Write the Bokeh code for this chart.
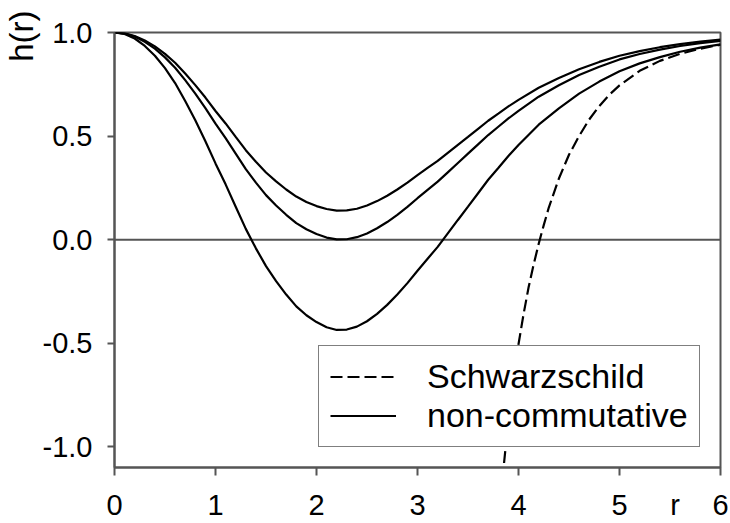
import numpy as np
from bokeh.plotting import figure
from bokeh.models import (Span, Legend, LegendItem, NumeralTickFormatter, FixedTicker,
                          Range1d, LinearAxis, Title)
from bokeh.embed import file_html
from bokeh.resources import INLINE

# ---- data ----
r_nc = [0, 0.1, 0.2, 0.3, 0.4, 0.5, 0.6, 0.7, 0.8, 0.9, 1.0, 1.1, 1.2, 1.3, 1.4, 1.5,
        1.6, 1.7, 1.8, 1.9, 2.0, 2.1, 2.2, 2.3, 2.4, 2.5, 2.6, 2.7, 2.8, 2.9, 3.0, 3.1,
        3.2, 3.3, 3.4, 3.5, 3.6, 3.7, 3.8, 3.9, 4.0, 4.2, 4.4, 4.6, 4.8, 5.0, 5.2, 5.4,
        5.6, 5.8, 6.0]
h_upper = [1.0, 0.996, 0.983, 0.961, 0.933, 0.897, 0.854, 0.802, 0.746, 0.686, 0.621,
           0.561, 0.496, 0.432, 0.376, 0.324, 0.281, 0.242, 0.208, 0.182, 0.162, 0.148,
           0.140, 0.141, 0.149, 0.165, 0.186, 0.212, 0.242, 0.275, 0.311, 0.346, 0.380,
           0.419, 0.458, 0.496, 0.535, 0.574, 0.608, 0.643, 0.675, 0.733, 0.780, 0.823,
           0.858, 0.888, 0.910, 0.929, 0.944, 0.956, 0.966]
h_middle = [1.0, 0.995, 0.98, 0.955, 0.922, 0.88, 0.83, 0.77, 0.705, 0.635, 0.56, 0.49,
            0.415, 0.34, 0.275, 0.215, 0.165, 0.12, 0.08, 0.05, 0.027, 0.01, 0.001, 0.002,
            0.012, 0.03, 0.055, 0.085, 0.12, 0.158, 0.2, 0.24, 0.28, 0.325, 0.37, 0.415,
            0.46, 0.505, 0.545, 0.585, 0.622, 0.69, 0.745, 0.795, 0.835, 0.87, 0.896,
            0.917, 0.935, 0.949, 0.96]
h_lower = [1.0, 0.993, 0.971, 0.935, 0.888, 0.828, 0.756, 0.669, 0.576, 0.475, 0.368,
           0.267, 0.159, 0.052, -0.042, -0.128, -0.200, -0.265, -0.322, -0.365, -0.398,
           -0.423, -0.436, -0.434, -0.420, -0.394, -0.358, -0.315, -0.265, -0.210, -0.150,
           -0.092, -0.035, 0.030, 0.095, 0.159, 0.224, 0.289, 0.346, 0.404, 0.457, 0.555,
           0.634, 0.705, 0.763, 0.813, 0.851, 0.881, 0.907, 0.927, 0.943]
r_schw = [3.84, 3.9, 3.95, 4.0, 4.05, 4.1, 4.15, 4.2, 4.25, 4.3, 4.4, 4.5, 4.6, 4.7, 4.8,
          4.9, 5.0, 5.2, 5.4, 5.6, 5.8, 6.0]
h_schw = [-1.16, -0.87, -0.675, -0.505, -0.36, -0.23, -0.12, -0.02, 0.07, 0.155, 0.295,
          0.41, 0.50, 0.58, 0.645, 0.70, 0.745, 0.815, 0.863, 0.897, 0.922, 0.941]
x_ticks = [0, 1, 2, 3, 4, 5, 6]
x_tick_labels = ["0", "1", "2", "3", "4", "5", "6"]
y_ticks = [-1.0, -0.5, 0.0, 0.5, 1.0]
legend_labels = ["Schwarzschild", "non-commutative"]
x_label, x_label_at = "r", 5.55
y_label = "h(r)"

AX = "#555555"
FONT = "Liberation Sans"

p = figure(width=730, height=523, output_backend="svg", toolbar_location=None,
           x_range=Range1d(0, 6), y_range=Range1d(-1.1, 1.0),
           min_border_left=112, min_border_right=10, min_border_top=32, min_border_bottom=54)
p.grid.visible = False
p.background_fill_color = "white"
p.border_fill_color = "white"
p.outline_line_color = AX
p.outline_line_width = 2

# x axis: line + tick marks only (labels on a second axis, so "r" can share their row)
xa = p.xaxis[0]
xa.ticker = FixedTicker(ticks=x_ticks)
xa.axis_line_color = AX
xa.axis_line_width = 2
xa.major_tick_line_color = AX
xa.major_tick_line_width = 2
xa.major_tick_in = 0
xa.major_tick_out = 8
xa.minor_tick_line_color = None
xa.major_label_text_color = None
xa.major_label_text_font_size = "1px"
xa.major_label_standoff = 0

xlab = LinearAxis(ticker=FixedTicker(ticks=x_ticks + [x_label_at]),
                  major_label_overrides={**{t: s for t, s in zip(x_ticks, x_tick_labels)},
                                         x_label_at: x_label},
                  axis_line_color=None, major_tick_line_color=None, minor_tick_line_color=None,
                  major_tick_in=0, major_tick_out=0, major_label_standoff=13,
                  major_label_text_font=FONT, major_label_text_font_size="29px",
                  major_label_text_color="black")
p.add_layout(xlab, "below")

# y axis
ya = p.yaxis[0]
ya.ticker = FixedTicker(ticks=y_ticks)
ya.formatter = NumeralTickFormatter(format="0.0")
ya.axis_line_color = AX
ya.axis_line_width = 2
ya.major_tick_line_color = AX
ya.major_tick_line_width = 2
ya.major_tick_in = 0
ya.major_tick_out = 7
ya.minor_tick_line_color = None
ya.major_label_standoff = 15
ya.major_label_text_font = FONT
ya.major_label_text_font_size = "29px"
ya.major_label_text_color = "black"

p.add_layout(Title(text=y_label, align="right", vertical_align="bottom", offset=-22,
                   standoff=0, text_font=FONT, text_font_size="33px",
                   text_font_style="normal", text_color="black"), "left")

p.add_layout(Span(location=0, dimension="width", line_color=AX, line_width=2, level="underlay"))

r_up = p.line(r_nc, h_upper, line_color="black", line_width=2.2)
r_mid = p.line(r_nc, h_middle, line_color="black", line_width=2.2)
r_low = p.line(r_nc, h_lower, line_color="black", line_width=2.2)
r_s = p.line(r_schw, h_schw, line_color="black", line_width=2.2, line_dash="12 5")

legend = Legend(items=[LegendItem(label=legend_labels[0], renderers=[r_s]),
                       LegendItem(label=legend_labels[1], renderers=[r_mid])],
                location=(204, 20), orientation="vertical",
                border_line_color="black", border_line_width=1.5,
                background_fill_color="white", background_fill_alpha=1.0,
                label_text_font=FONT, label_text_font_size="34px", label_text_color="black",
                glyph_width=66, glyph_height=39, label_height=39, label_standoff=31,
                padding=11, spacing=0, margin=0)
p.add_layout(legend)

open("out.html", "w").write(file_html(p, INLINE))
